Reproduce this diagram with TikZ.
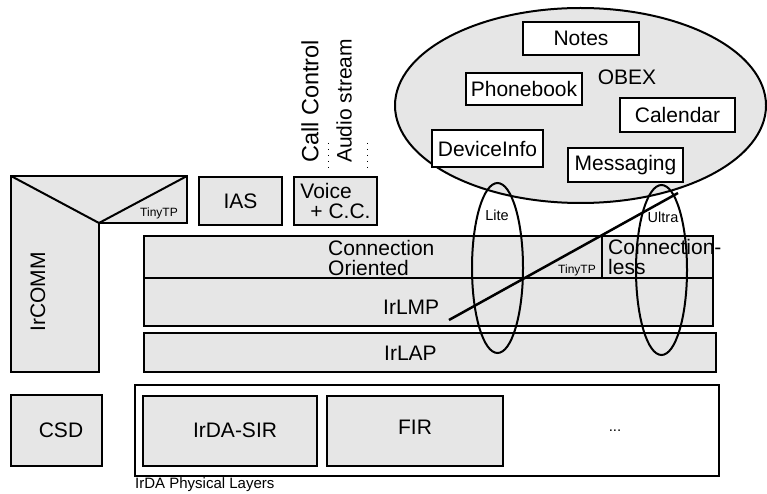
\documentclass[tikz,border=0pt]{standalone}
\usepackage{fontspec}
\setmainfont{Liberation Sans}
\usetikzlibrary{shapes.geometric}
\definecolor{layergray}{RGB}{230,230,230}
\newcommand\fsbig{\fontsize{21}{20}\selectfont}
\newcommand\fscall{\fontsize{23.5}{22}\selectfont}
\newcommand\fsmid{\fontsize{14.5}{15}\selectfont}
\newcommand\fsphys{\fontsize{15}{15}\selectfont}
\newcommand\fstiny{\fontsize{12}{12}\selectfont}

\tikzset{
  lay/.style={draw, line width=2pt, fill=layergray},
  laybox/.style={lay, inner sep=0pt, font=\fsbig},
  appbox/.style={draw, line width=2pt, fill=white, inner sep=0pt, font=\fsbig},
  ring/.style={draw, ellipse, line width=2pt, inner sep=0pt},
  txt/.style={inner sep=0pt, font=\fsbig},
}

\begin{document}
\begin{tikzpicture}[x=1pt, y=-1pt]
\useasboundingbox (0,0) rectangle (767,494);

% ---- OBEX cloud with its applications
\node[ring, fill=layergray, minimum width=371, minimum height=195] (obex) at (580.5,105.5) {};
\node[txt] (obexlbl) at (627,77) {OBEX};
\node[appbox, minimum width=116, minimum height=33] (notes) at (581,38.5) {Notes};
\node[appbox, minimum width=116, minimum height=32] (phone) at (524,89) {Phonebook};
\node[appbox, minimum width=115, minimum height=34] (cal) at (677.5,115) {Calendar};
\node[appbox, minimum width=111, minimum height=37] (devinfo) at (487.5,148.5) {DeviceInfo};
\node[appbox, minimum width=115, minimum height=34] (msg) at (625.5,165) {Messaging};

% ---- IrCOMM (L-shaped) with its TinyTP corner
\coordinate (c1) at (11,176);
\coordinate (c2) at (187,176);
\coordinate (c3) at (187,223);
\coordinate (c4) at (99,223);
\coordinate (c5) at (99,372);
\coordinate (c6) at (11,372);
\draw[lay] (c1) -- (c2) -- (c3) -- (c4) -- (c5) -- (c6) -- cycle;
\draw[line width=2pt] (c1) -- (c4) -- (c2);
\node[txt, rotate=90] (ircomm) at (38,292) {IrCOMM};
\node[inner sep=0pt, font=\fstiny] (tinyA) at (159,213) {TinyTP};

% ---- upper protocol boxes
\node[laybox, minimum width=83, minimum height=48] (ias) at (240.5,201) {IAS};
\node[laybox, minimum width=83, minimum height=48, align=left] (voice) at (335.5,201)
  {Voice\\\hspace*{10pt}+ C.C.};

% ---- call control / audio stream channels
\node[inner sep=0pt, font=\fscall, rotate=90, anchor=west] (callctl) at (310,163) {Call Control};
\node[txt, rotate=90, anchor=west] (audio) at (344,163) {Audio stream};
\coordinate (dotAtop) at (328,143);
\coordinate (dotBtop) at (367,143);
\draw[line width=1pt, dash pattern=on 1pt off 5pt] (dotAtop) -- ++(0,25);
\draw[line width=1pt, dash pattern=on 1pt off 5pt] (dotBtop) -- ++(0,25);

% ---- IrLMP with the connection layer above it
\node[laybox, minimum width=569, minimum height=42] (conn) at (428.5,257) {};
\node[laybox, minimum width=569, minimum height=48] (irlmp) at (428.5,302) {};
\coordinate (divtop) at (602,236);
\draw[line width=2pt] (divtop) -- (divtop |- conn.south);
\node[txt, align=left, anchor=west] (colbl) at (328,257.5) {Connection\\Oriented};
\node[txt, align=left, anchor=west] (cllbl) at (608,256.5) {Connection-\\less};
\node[inner sep=0pt, font=\fstiny] (tinyB) at (577,270) {TinyTP};
\node[txt, anchor=west] (lmplbl) at (383,307) {IrLMP};

% ---- IrLAP
\node[laybox, minimum width=572, minimum height=39] (irlap) at (430,352.5) {};
\node[txt, anchor=west] (laplbl) at (384,353) {IrLAP};

% ---- physical layers
\node[lay, minimum width=91, minimum height=71] (csd) at (56.5,430.5) {};
\node[txt] (csdlbl) at (61,430) {CSD};
\node[draw, line width=2pt, fill=white, minimum width=584, minimum height=91] (phys) at (427,430.5) {};
\node[lay, minimum width=174, minimum height=70] (sir) at (230,431) {};
\node[txt] (sirlbl) at (235,430) {IrDA-SIR};
\node[lay, minimum width=176, minimum height=70] (fir) at (415,431) {};
\node[txt] (firlbl) at (415,427) {FIR};
\node[inner sep=0pt, font=\fsphys] (more) at (615,431) {...};
\node[inner sep=0pt, font=\fsphys, anchor=west] (physlbl) at (135,485) {IrDA Physical Layers};

% ---- Lite and Ultra profiles
\node[ring, minimum width=51, minimum height=170] (lite) at (497.5,268) {};
\node[ring, minimum width=51, minimum height=170] (ultra) at (661.5,270) {};
\node[inner sep=0pt, font=\fsmid] (litelbl) at (497,215) {Lite};
\node[inner sep=0pt, font=\fsmid] (ultralbl) at (663,217) {Ultra};

% ---- separating diagonal
\coordinate (dA) at (449,320);
\coordinate (dB) at (678,193);
\draw[line width=2.5pt] (dA) -- (dB);
\end{tikzpicture}
\end{document}
